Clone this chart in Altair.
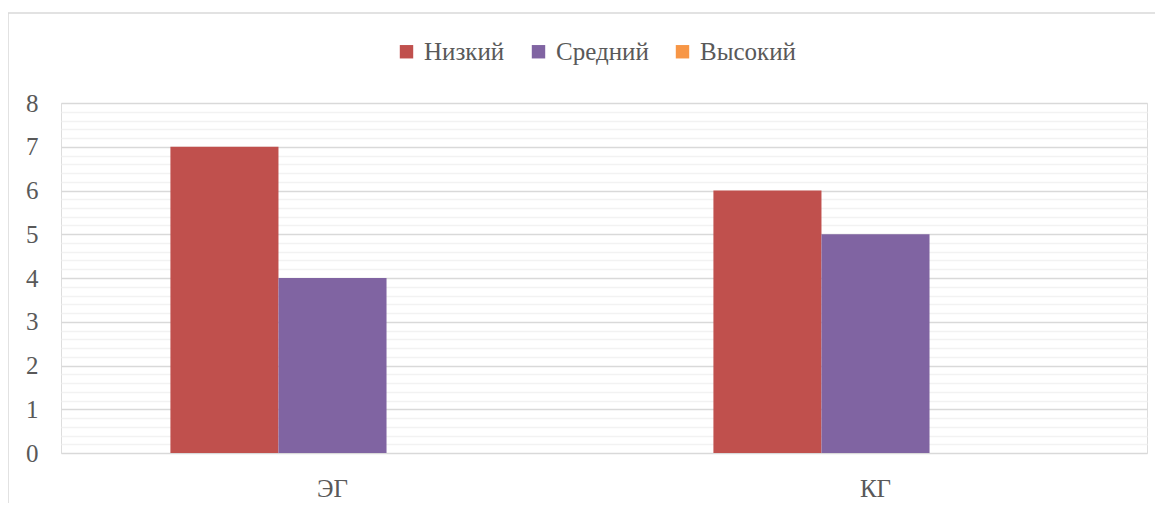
import altair as alt
import pandas as pd

groups = ["ЭГ", "КГ"]
series = ["Низкий", "Средний", "Высокий"]
low = [7, 6]
mid = [4, 5]
high = [0, 0]
colors = ["#C0504D", "#8064A2", "#F79646"]

rows = []
for i, g in enumerate(groups):
    for s, vals in zip(series, [low, mid, high]):
        rows.append({"group": g, "series": s, "value": vals[i]})
df = pd.DataFrame(rows)

ticks = [round(i * 0.2, 1) for i in range(41)]
FONT = "Liberation Serif"
FS = 25

bars = alt.Chart(df).mark_bar().encode(
    x=alt.X("group:N", sort=groups, title=None,
            scale=alt.Scale(paddingInner=0.403, paddingOuter=0.2015),
            axis=alt.Axis(labelAngle=0, domain=False, ticks=False, labelPadding=23,
                          labelFontSize=FS, labelColor="#595959", labelFont=FONT, grid=False)),
    xOffset=alt.XOffset("series:N", sort=series, scale=alt.Scale(paddingInner=0, paddingOuter=0)),
    y=alt.Y("value:Q", title=None,
            scale=alt.Scale(domain=[0, 8], nice=False),
            axis=alt.Axis(values=ticks, domain=False, ticks=False, labelOverlap=False,
                          labelExpr="abs(datum.value - round(datum.value)) < 0.01 ? format(datum.value, 'd') : ''",
                          labelPadding=23, labelFontSize=FS, labelColor="#595959", labelFont=FONT,
                          gridColor={"condition": {"test": "abs(datum.value - round(datum.value)) < 0.01", "value": "#D9D9D9"}, "value": "#F2F2F2"},
                          gridWidth=1.3)),
    color=alt.Color("series:N", sort=series,
                    scale=alt.Scale(domain=series, range=colors),
                    legend=alt.Legend(title=None, orient="none", direction="horizontal",
                                      legendX=333, legendY=-64, symbolType="square", symbolSize=180,
                                      symbolStrokeWidth=0, labelFontSize=FS, labelFont=FONT,
                                      labelColor="#595959", columnPadding=21, labelOffset=5)),
)

border = alt.Chart(pd.DataFrame({"a": [0]})).mark_rect(fill=None, stroke="#D9D9D9", strokeWidth=1.5).encode(
    x=alt.value(-53), x2=alt.value(1200), y=alt.value(-90), y2=alt.value(600)
)

chart = alt.layer(border, bars).properties(
    width=1086, height=350,
    autosize=alt.AutoSizeParams(type="none"),
    padding={"left": 53, "top": 95, "right": 8, "bottom": 50},
).configure_view(stroke=None).configure(background="white", font=FONT)

chart.save("out.html", embed_options={"renderer": "svg", "actions": False})
